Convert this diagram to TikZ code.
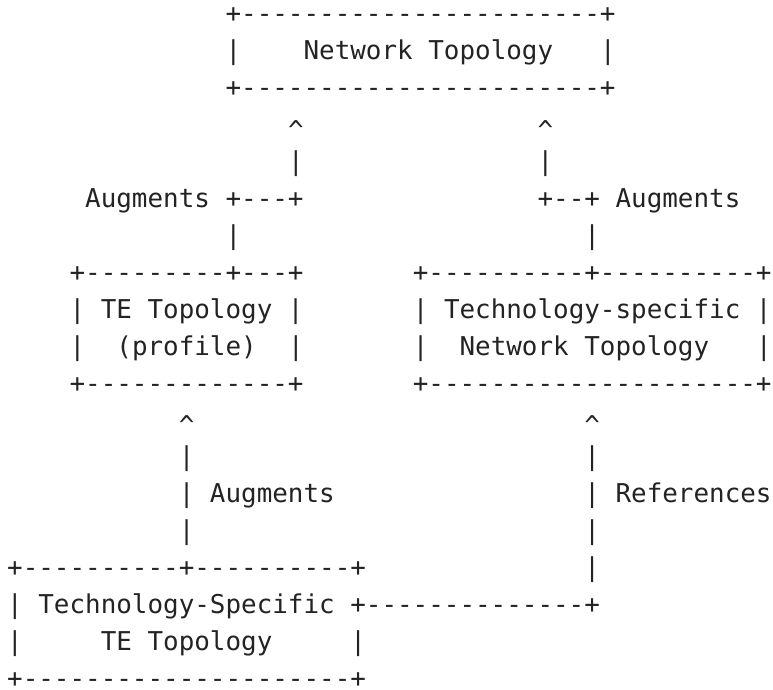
\documentclass[tikz,border=0pt]{standalone}
\usepackage{fontspec}
\setmonofont{DejaVu Sans Mono}
\ExplSyntaxOn
\NewDocumentCommand\dashes{m}{\prg_replicate:nn{#1}{-}}
\ExplSyntaxOff
\definecolor{ink}{HTML}{232323}
\tikzset{
  txt/.style={inner sep=0pt, outer sep=0pt, anchor=base west, text=ink,
    font=\ttfamily\fontsize{25.91}{30}\selectfont},
  caret/.style={txt, yshift=-6pt}
}
\newcommand\asc[4]{\node[txt] (#1) at ({7.2pt+#2*15.6pt},{-22.5pt-#3*36.95pt}) {#4};}
\newcommand\upmark[3]{\node[caret] (#1) at ({7.2pt+#2*15.6pt},{-22.5pt-#3*36.95pt}) {\textasciicircum};}
\begin{document}
\begin{tikzpicture}
\useasboundingbox (0pt,0pt) rectangle (773pt,-689pt);
% Network Topology box
\asc{ntTop}{14}{0}{+\dashes{23}+}
\asc{ntL}{14}{1}{|}
\asc{ntText}{19}{1}{Network Topology}
\asc{ntR}{38}{1}{|}
\asc{ntBot}{14}{2}{+\dashes{23}+}
% arrows up to Network Topology
\upmark{upA}{18}{3}
\upmark{upB}{34}{3}
\asc{vA1}{18}{4}{|}
\asc{vB1}{34}{4}{|}
\asc{augL}{5}{5}{Augments +\dashes{3}+}
\asc{augR}{34}{5}{+\dashes{2}+ Augments}
\asc{vA2}{14}{6}{|}
\asc{vB2}{37}{6}{|}
% TE Topology (profile) box
\asc{teTop}{4}{7}{+\dashes{9}+\dashes{3}+}
\asc{teL1}{4}{8}{| TE Topology |}
\asc{teL}{4}{9}{|}
\asc{teText}{7}{9}{(profile)}
\asc{teR}{18}{9}{|}
\asc{teBot}{4}{10}{+\dashes{13}+}
% Technology-specific Network Topology box
\asc{tsTop}{26}{7}{+\dashes{10}+\dashes{10}+}
\asc{tsL1}{26}{8}{| Technology-specific |}
\asc{tsL}{26}{9}{|}
\asc{tsText}{29}{9}{Network Topology}
\asc{tsR}{48}{9}{|}
\asc{tsBot}{26}{10}{+\dashes{21}+}
% lower arrows
\upmark{upC}{11}{11}
\upmark{upD}{37}{11}
\asc{vC1}{11}{12}{|}
\asc{vD1}{37}{12}{|}
\asc{augC}{11}{13}{| Augments}
\asc{refD}{37}{13}{| References}
\asc{vC2}{11}{14}{|}
\asc{vD2}{37}{14}{|}
\asc{vD3}{37}{15}{|}
% Technology-Specific TE Topology box
\asc{sTop}{0}{15}{+\dashes{10}+\dashes{10}+}
\asc{sL1}{0}{16}{| Technology-Specific +\dashes{14}+}
\asc{sL}{0}{17}{|}
\asc{sText}{6}{17}{TE Topology}
\asc{sR}{22}{17}{|}
\asc{sBot}{0}{18}{+\dashes{21}+}
\end{tikzpicture}
\end{document}
